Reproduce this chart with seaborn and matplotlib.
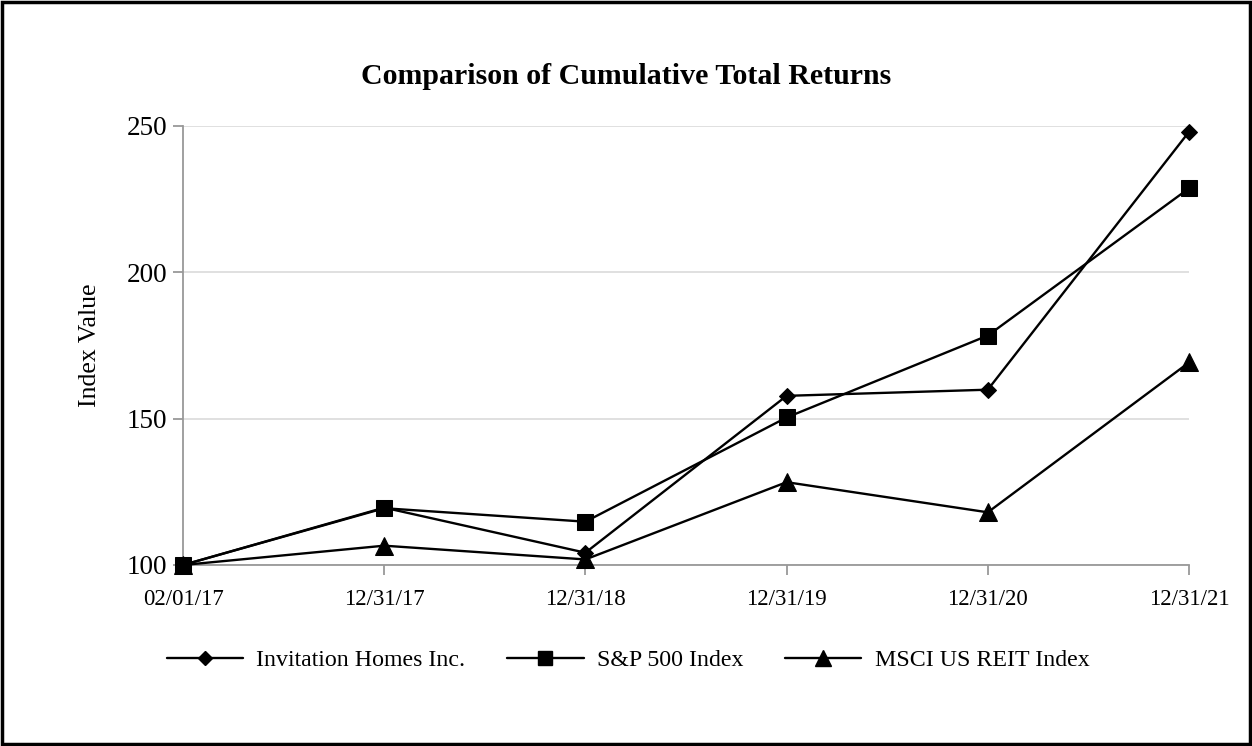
import matplotlib
matplotlib.use("Agg")
import matplotlib.pyplot as plt
import seaborn as sns
import pandas as pd
from matplotlib.patches import Rectangle
from matplotlib.lines import Line2D

dates = ["02/01/17", "12/31/17", "12/31/18", "12/31/19", "12/31/20", "12/31/21"]
invitation = [100, 119.6, 104.2, 157.8, 159.9, 248.0]
sp500 = [100, 119.4, 114.8, 150.4, 178.4, 228.7]
msci = [100, 106.6, 101.9, 128.3, 118.0, 169.2]
series_names = ["Invitation Homes Inc.", "S&P 500 Index", "MSCI US REIT Index"]
y_ticks = [100, 150, 200, 250]

rows = []
for name, vals in zip(series_names, [invitation, sp500, msci]):
    for i, (d, v) in enumerate(zip(dates, vals)):
        rows.append({"pos": i, "date": d, "value": v, "series": name})
df = pd.DataFrame(rows)

sns.set_theme(style="white")
plt.rcParams["font.family"] = ["Liberation Serif", "DejaVu Serif"]
plt.rcParams["text.color"] = "black"
plt.rcParams["axes.labelcolor"] = "black"

fig = plt.figure(figsize=(12.52, 7.46), dpi=100)
ax = fig.add_axes([183 / 1252, 1 - 565 / 746, (1189 - 183) / 1252, (565 - 126) / 746])

markers = {"Invitation Homes Inc.": "D", "S&P 500 Index": "s", "MSCI US REIT Index": "^"}
sizes = {"Invitation Homes Inc.": 8, "S&P 500 Index": 11, "MSCI US REIT Index": 13}
for name in series_names:
    sub = df[df["series"] == name]
    sns.lineplot(data=sub, x="pos", y="value", ax=ax, color="black", linewidth=1.7,
                 marker=markers[name], markersize=sizes[name], markeredgecolor="black",
                 markerfacecolor="black", clip_on=False, label=name, legend=False, zorder=3)

ax.set_xlim(0, len(dates) - 1)
ax.set_ylim(100, 250)
ax.set_xticks(range(len(dates)))
ax.set_xticklabels(dates, fontsize=16.5)
ax.set_yticks(y_ticks)
ax.set_yticklabels([str(t) for t in y_ticks], fontsize=19.5)
ax.yaxis.grid(True, color="#dddddd", linewidth=1.3)
ax.xaxis.grid(False)
for s in ["top", "right"]:
    ax.spines[s].set_visible(False)
for s in ["left", "bottom"]:
    ax.spines[s].set_color("#999999")
    ax.spines[s].set_linewidth(1.3)
ax.tick_params(axis="both", which="both", direction="out", length=7.5, width=1.3, color="#999999",
               labelcolor="black", bottom=True, left=True)
ax.tick_params(axis="x", pad=10)
ax.tick_params(axis="y", pad=4)
ax.set_xlabel("")
ax.set_ylabel("Index Value", fontsize=18.5, labelpad=18, color="black")

fig.text(626 / 1252, 1 - 77 / 746, "Comparison of Cumulative Total Returns", ha="center", va="center",
         fontsize=21.5, fontweight="bold", color="black")

handles = [Line2D([], [], color="black", linewidth=1.7, marker=markers[n], markersize=sizes[n] * 0.9,
                  markerfacecolor="black") for n in series_names]
fig.legend(handles, series_names, loc="center", bbox_to_anchor=(628 / 1252, 1 - 660 / 746), ncol=3,
           frameon=False, fontsize=17.2, handlelength=3.2, columnspacing=1.75, handletextpad=0.55)

fig.patches.append(Rectangle((0.0015, 0.0025), 0.997, 0.995, transform=fig.transFigure, fill=False,
                             edgecolor="black", linewidth=2.5))

fig.savefig("out.png", dpi=100)
